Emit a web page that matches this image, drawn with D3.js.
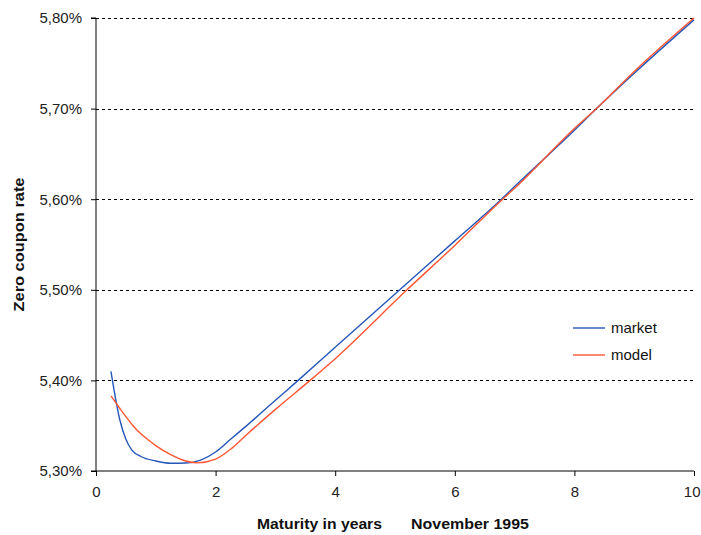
<!DOCTYPE html>
<html>
<head>
<meta charset="utf-8">
<script src="https://cdn.jsdelivr.net/npm/d3@7/dist/d3.min.js"></script>
<style>
  body { margin: 0; background: #fff; }
  svg { display: block; }
  text { font-family: "Liberation Sans", Arial, sans-serif; }
</style>
</head>
<body>
<svg id="chart" width="701" height="535"></svg>
<script>
// Data
const marketYears = [0.25, 0.3, 0.4, 0.5, 0.6, 0.75, 1.0, 1.25, 1.5, 1.75, 2.0, 2.25, 2.5, 3.0, 3.38, 4.0, 5.08, 6.0, 6.78, 7.0, 8.0, 8.37, 9.0, 10.0];
const marketRates = [5.410, 5.390, 5.356, 5.335, 5.323, 5.316, 5.311, 5.3085, 5.3088, 5.312, 5.321, 5.335, 5.349, 5.378, 5.400, 5.4365, 5.500, 5.554, 5.600, 5.614, 5.676, 5.700, 5.739, 5.798];
const modelYears = [0.25, 0.4, 0.5, 0.62, 0.75, 0.9, 1.0, 1.25, 1.5, 1.7, 2.0, 2.25, 2.5, 3.0, 3.58, 4.0, 5.2, 6.0, 6.8, 7.0, 8.0, 8.37, 9.0, 10.0];
const modelRates = [5.383, 5.369, 5.360, 5.350, 5.341, 5.333, 5.328, 5.318, 5.311, 5.309, 5.313, 5.324, 5.339, 5.368, 5.400, 5.424, 5.500, 5.549, 5.600, 5.612, 5.678, 5.700, 5.741, 5.800];
const xTicks = [0, 2, 4, 6, 8, 10];
const yTicks = [5.30, 5.40, 5.50, 5.60, 5.70, 5.80];
const seriesNames = ["market", "model"];
const seriesColors = ["#2457b8", "#ff5533"];

const svg = d3.select("#chart");
const pL = 96, pR = 694, pT = 18, pB = 471;

const x = d3.scaleLinear().domain([0, 10]).range([pL, pR]);
const y = d3.scaleLinear().domain([5.30, 5.80]).range([pB, pT]);

// gridlines
svg.append("g").selectAll("line")
  .data(yTicks.filter(d => d > 5.30))
  .join("line")
  .attr("x1", pL).attr("x2", pR)
  .attr("y1", d => Math.round(y(d)) + 0.5).attr("y2", d => Math.round(y(d)) + 0.5)
  .attr("stroke", "#000").attr("stroke-width", 1)
  .attr("stroke-dasharray", "3,3");

// axes
const yAxis = d3.axisLeft(y).tickValues(yTicks).tickSize(5).tickPadding(9)
  .tickFormat(d => d3.format(".2f")(d).replace(".", ",") + "%");
const gy = svg.append("g").attr("transform", `translate(${pL},0)`).call(yAxis);
gy.select(".domain").attr("stroke", "#000").attr("d", `M-5,${pT}H0V${pB}H-5`);
gy.selectAll("text").attr("font-size", 15).attr("fill", "#222")
  .attr("font-family", "'Liberation Sans', Arial, sans-serif");

const xAxis = d3.axisBottom(x).tickValues(xTicks).tickSize(5).tickPadding(10)
  .tickFormat(d3.format("d"));
const gx = svg.append("g").attr("transform", `translate(0,${pB})`).call(xAxis);
gx.select(".domain").attr("stroke", "#000").attr("d", `M${pL},0H${pR}`);
gx.selectAll("text").attr("font-size", 15).attr("fill", "#222")
  .attr("font-family", "'Liberation Sans', Arial, sans-serif")
  .attr("text-anchor", d => d === 10 ? "end" : "middle")
  .attr("dx", d => d === 10 ? 6 : 0);
svg.selectAll(".tick line").attr("stroke", "#000");

// lines
const line = d3.line().x(d => x(d[0])).y(d => y(d[1])).curve(d3.curveMonotoneX);
const series = [
  d3.zip(marketYears, marketRates),
  d3.zip(modelYears, modelRates)
];
svg.append("g").selectAll("path")
  .data(series)
  .join("path")
  .attr("d", line)
  .attr("fill", "none")
  .attr("stroke", (d, i) => seriesColors[i])
  .attr("stroke-width", 1.4);

// legend
const lg = svg.append("g");
seriesNames.forEach((name, i) => {
  const ly = 328 + i * 27;
  lg.append("line").attr("x1", 573).attr("x2", 605).attr("y1", ly).attr("y2", ly)
    .attr("stroke", seriesColors[i]).attr("stroke-width", 1.4);
  lg.append("text").attr("x", 611).attr("y", ly + 5).attr("font-size", 15)
    .attr("fill", "#111").text(name);
});

// titles
svg.append("text")
  .attr("transform", `translate(24,${(pT + pB) / 2}) rotate(-90)`)
  .attr("text-anchor", "middle").attr("font-size", 15).attr("font-weight", "bold")
  .attr("textLength", 134).attr("lengthAdjust", "spacingAndGlyphs")
  .attr("fill", "#111").text("Zero coupon rate");

svg.append("text").attr("x", 257).attr("y", 529)
  .attr("font-size", 15).attr("font-weight", "bold").attr("fill", "#111")
  .attr("textLength", 125).attr("lengthAdjust", "spacingAndGlyphs")
  .text("Maturity in years");
svg.append("text").attr("x", 411).attr("y", 529)
  .attr("font-size", 15).attr("font-weight", "bold").attr("fill", "#111")
  .attr("textLength", 118).attr("lengthAdjust", "spacingAndGlyphs")
  .text("November 1995");
</script>
</body>
</html>
